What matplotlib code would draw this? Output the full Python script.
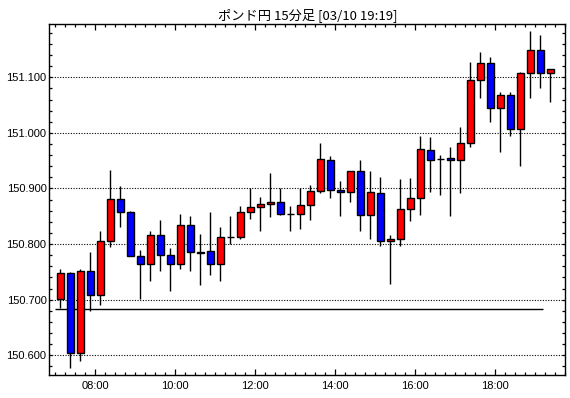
import numpy as np
import matplotlib
matplotlib.use("Agg")
import matplotlib.pyplot as plt
from matplotlib.ticker import MultipleLocator, FuncFormatter

# 15-minute candles, 07:00 .. 19:15
times = [f"{7 + i // 4:02d}:{(i % 4) * 15:02d}" for i in range(50)]
opens = [150.701, 150.748, 150.605, 150.751, 150.708, 150.805, 150.881, 150.858, 150.779, 150.765,
         150.817, 150.781, 150.764, 150.834, 150.785, 150.787, 150.764, 150.812, 150.813, 150.858,
         150.866, 150.872, 150.875, 150.854, 150.855, 150.871, 150.896, 150.952, 150.897, 150.893,
         150.931, 150.852, 150.891, 150.805, 150.809, 150.863, 150.882, 150.969, 150.953, 150.954,
         150.951, 150.981, 151.095, 151.126, 151.045, 151.068, 151.007, 151.108, 151.149, 151.108]
highs = [150.755, 150.749, 150.755, 150.785, 150.824, 150.933, 150.905, 150.860, 150.789, 150.824,
         150.843, 150.793, 150.855, 150.851, 150.818, 150.858, 150.831, 150.851, 150.869, 150.900,
         150.885, 150.928, 150.900, 150.869, 150.900, 150.906, 150.982, 150.959, 150.913, 150.932,
         150.951, 150.931, 150.921, 150.816, 150.917, 150.919, 150.995, 150.993, 150.960, 150.974,
         151.010, 151.128, 151.146, 151.136, 151.073, 151.073, 151.110, 151.183, 151.176, 151.115]
lows = [150.685, 150.577, 150.589, 150.680, 150.691, 150.794, 150.831, 150.778, 150.701, 150.733,
        150.751, 150.715, 150.755, 150.751, 150.727, 150.745, 150.734, 150.800, 150.810, 150.846,
        150.824, 150.849, 150.853, 150.824, 150.828, 150.843, 150.891, 150.882, 150.851, 150.876,
        150.823, 150.810, 150.797, 150.729, 150.797, 150.842, 150.853, 150.894, 150.889, 150.851,
        150.891, 150.975, 151.062, 151.019, 150.965, 150.995, 150.941, 151.063, 151.080, 151.056]
closes = [150.748, 150.605, 150.751, 150.708, 150.805, 150.881, 150.858, 150.779, 150.765, 150.817,
          150.781, 150.764, 150.834, 150.785, 150.784, 150.765, 150.812, 150.813, 150.858, 150.866,
          150.872, 150.876, 150.854, 150.855, 150.870, 150.896, 150.953, 150.897, 150.893, 150.931,
          150.852, 150.893, 150.805, 150.809, 150.863, 150.882, 150.971, 150.952, 150.953, 150.951,
          150.981, 151.095, 151.126, 151.045, 151.068, 151.007, 151.108, 151.149, 151.108, 151.114]
ref_level = 150.684
ref_span = ("07:00", "19:12")
title = "ポンド円 15分足 [03/10 19:19]"


def to_hours(hhmm):
    h, m = hhmm.split(":")
    return int(h) + int(m) / 60.0


fig = plt.figure(figsize=(5.7, 3.98), dpi=100)
ax = fig.add_axes([0.0865, 0.0578, 0.9053, 0.8812])

x = np.array([to_hours(t) for t in times]) + 0.125  # candle drawn mid-slot
o = np.array(opens)
c = np.array(closes)
up = c >= o
colors = np.where(up, "#ff0000", "#0000ff")
bottom = np.minimum(o, c)
height = np.maximum(np.abs(c - o), 0.0008)

ax.vlines(x, lows, highs, color="black", lw=1.0, zorder=2)
ax.bar(x, height, bottom=bottom, width=0.16, color=colors,
       edgecolor="black", linewidth=1.0, zorder=3)

ax.hlines(ref_level, to_hours(ref_span[0]), to_hours(ref_span[1]),
          color="black", lw=1.0, zorder=1)

for lv in [150.6, 150.7, 150.8, 150.9, 151.0, 151.1]:
    ax.axhline(lv, color="black", lw=0.8, dashes=(1, 1.4), zorder=0)

ax.set_xlim(6.85, 19.75)
ax.set_ylim(150.5646, 151.1953)

ax.xaxis.set_major_locator(MultipleLocator(2))
ax.xaxis.set_minor_locator(MultipleLocator(0.25))
ax.xaxis.set_major_formatter(FuncFormatter(lambda v, p: f"{int(round(v)):02d}:00"))
ax.yaxis.set_major_locator(MultipleLocator(0.1))
ax.yaxis.set_minor_locator(MultipleLocator(0.02))
ax.yaxis.set_major_formatter(FuncFormatter(lambda v, p: f"{v:.3f}"))

ax.tick_params(axis="both", which="both", direction="in", top=True, right=True,
               color="black", width=0.9, labelsize=8)
ax.tick_params(axis="x", which="major", length=4.0, pad=4)
ax.tick_params(axis="x", which="minor", length=2.2)
ax.tick_params(axis="y", which="both", length=2.4, pad=2)
for lab in ax.get_xticklabels() + ax.get_yticklabels():
    lab.set_family(["Liberation Sans", "DejaVu Sans"])
for sp in ax.spines.values():
    sp.set_linewidth(1.0)

ax.set_title(title, fontsize=9.5, pad=4, family=["Noto Sans CJK JP", "DejaVu Sans"])

fig.savefig("out.png", dpi=100, facecolor="white")
